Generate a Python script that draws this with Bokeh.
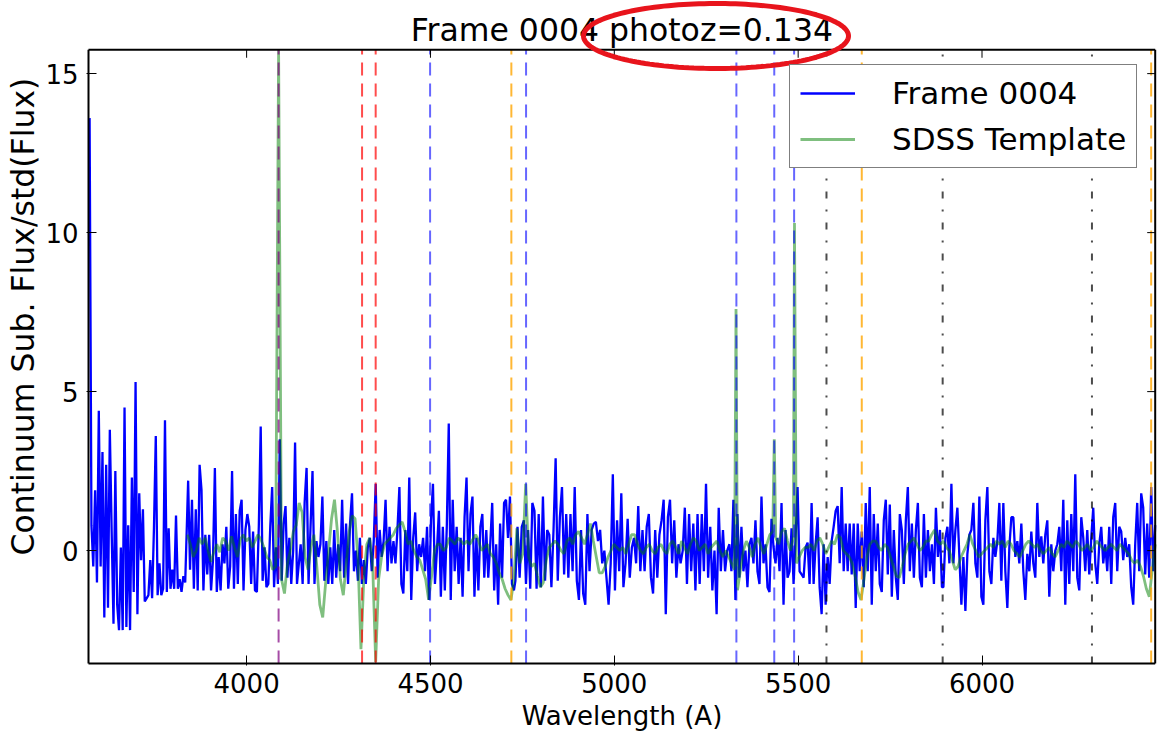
import numpy as np
from bokeh.plotting import figure
from bokeh.models import (Range1d, FixedTicker, Legend, LegendItem, PolyAnnotation, Label, Title)
from bokeh.embed import file_html
from bokeh.resources import INLINE

FONT = "DejaVu Sans"
title_text = "Frame 0004 photoz=0.134"
x_label = "Wavelength (A)"
y_label = "Continuum Sub. Flux/std(Flux)"
x_ticks = [4000, 4500, 5000, 5500, 6000]
y_ticks = [0, 5, 10, 15]
series_names = ["Frame 0004", "SDSS Template"]

# axes box (data limits of the drawn box)
x_lo, x_hi = 3570, 6471
y_lo, y_hi = -3.55, 15.75

# ---- Frame 0004 (blue) : segments given as (first wavelength, last wavelength) + values
blue_a_span = (3573, 3833)
blue_a = [13.6, 0.8, -0.5, 1.9, -1.0, 4.4, -0.5, 3.1, -2.1, 2.7, -1.8, 3.8, 0.6, -2.3, 2.5,
          -1.7, -2.5, 0.1, -2.5, 4.5, -2.4, 0.8, -2.5, 2.3, -1.3, 5.3, -2.0, 1.8, -0.3, 1.3,
          -1.6, -1.5, -1.4, -0.3, -1.5, 0.7, 3.6, -1.4, -0.4, -1.4, -1.2, 4.1, -1.3, 0.7, -1.2,
          -0.6, -1.2, 1.1, -1.2, -0.9, -1.3, -0.8, -1.0]
blue_b_span = (3841, 4137)
blue_b = [2.2, -0.6, 1.6, -1.2, 1.3, -1.25, 2.7, 1.9, -1.25, 0.5, -0.75, 0.5, -1.25, -0.3, 2.6,
          -1.3, -0.2, -1.25, 0.2, -0.4, 0.75, -1.2, -0.5, 2.5, -1.2, 1.15, -1.05, 1.25, 1.6, -1.25,
          0.65, 1.15, 0.75, -1.05, 0.6, -1.25, -1.3, 0.75, 3.9, -0.95, 0.1, -1.15, -1.05, 0.75, 2.0,
          -1.15, 0.1, -1.05, 3.5, -0.95, 0.85, 1.4, -0.85, 0.4, -1.05, 0.0, 3.4, -1.05]
blue_c_span = (4147, 4727)
blue_c = [0.2, -1.05, 1.5, 2.6, -1.05, 0.75, 2.5, -1.05, 0.3, -0.2, 0.2, 1.7, -0.95, 0.3, -1.05,
          0.1, -1.05, 0.65, -0.85, 0.2, -0.65, 1.6, -0.85, 0.85, -1.05, 0.85, 1.8, -0.65, 0.0, -0.95,
          0.4, -1.05, -0.3, -1.05, 0.1, 0.4, -0.65, 0.3, 2.1, -0.85, 0.65, -0.2, 0.3, 1.6, -0.65,
          0.75, -0.4, 0.3, -0.4, 0.65, 2.0, -1.05, -1.35, 0.65, -0.65, 2.3, -1.55, 0.4, 1.2, -0.65,
          0.2, -0.2, 0.4, -0.65, 0.75, -1.55, 0.95, 2.1, -1.05, 0.0, 1.25, -1.45, 0.75, -1.25, 0.75,
          4.0, -1.55, 1.6, -0.65, 0.75, -1.05, 0.4, -1.45, 1.05, 2.3, -0.65, 1.15, 1.7, -1.45, 0.4,
          -1.25, 0.75, 1.15, -0.85, 0.65, -0.85, 0.2, 1.5, -1.25, 0.2, -1.7, 0.85, -0.85, 1.5, 1.6,
          0.4, 1.7, -1.05, -1.25]
blue_d_span = (4731, 5307)
blue_d = [-0.95, 0.75, -0.85, 0.75, 0.95, -1.05, 0.65, -1.2, 1.5, 1.25, -1.2, 1.15, -1.15, 1.7,
          -0.95, 0.65, 0.5, -1.15, 0.65, 2.9, -0.95, 1.05, 2.0, -0.75, 1.15, -0.85, 1.15, -0.65, 2.0,
          -0.95, -1.55, 0.65, -1.35, -1.7, 1.15, -0.65, 0.65, 0.85, 0.9, 0.3, 0.65, -0.4, 0.0, -0.85,
          -1.7, -0.4, 2.4, -1.25, 0.95, -0.65, 1.8, -1.15, -0.4, 1.0, -0.85, 0.1, 0.4, -0.4, 1.4,
          -0.65, 0.65, -0.65, 0.75, 1.15, -0.85, -1.35, 0.65, -0.85, 0.5, 0.95, 1.6, -2.0, 1.05, 1.6,
          -0.4, 0.95, -0.85, 0.2, -0.4, 0.0, 1.35, -1.05, 1.15, -0.65, 0.85, -1.25, 1.15, -1.05, 1.15,
          -0.65, 2.1, -0.85, 0.75, -1.25, 0.0, -2.0, 1.35, -0.65, 0.65, -0.65, 0.0]
blue_e_span = (5313, 5891)
blue_e = [0.2, -0.65, 1.6, -1.55, 1.15, -0.85, 0.75, -0.65, 0.0, -1.15, 0.2, 0.4, -0.4, 0.95,
          -0.65, -1.05, 1.7, -0.4, 0.2, -1.15, -1.3, 1.0, 0.1, -0.4, 0.4, -0.65, 1.5, -1.7, 0.65,
          -0.85, -0.65, 0.7, -1.05, 0.4, 2.0, -0.65, -0.75, -0.85, 0.1, 0.25, -1.05, 1.5, -1.05, 0.2,
          1.05, -1.15, -2.0, 0.2, -1.7, -0.2, -1.05, 0.3, 0.75, 1.25, 1.4, -0.4, 2.0, -0.65, 0.85,
          -0.65, 0.85, -0.75, 0.85, -1.8, 0.85, -0.65, 0.6, -1.15, 1.5, -0.65, 2.0, -1.7, 1.15, -0.65,
          0.85, -1.05, -1.3, 0.95, 1.6, -0.75, 1.45, -1.45, 0.65, -0.85, -1.55, 1.15, 0.65, -1.05,
          0.95, 2.0, -0.65, 0.85, -0.85, 0.65, 1.5, -0.85, -1.15, 1.15, -0.85, 0.65, -0.65, 0.2,
          -1.05, 1.35, -0.2, 0.65, -1.15]
blue_f_span = (5895, 6471)
blue_f = [-1.15, 0.4, 0.75, -0.4, 2.1, -0.4, 0.65, 1.35, -0.2, -1.7, -0.2, -1.9, -0.1, 0.5, 0.65,
          1.5, -0.4, -0.85, 1.7, -1.45, -1.7, 0.95, 2.0, -0.65, -1.05, 0.4, -0.2, 0.3, 1.5, -0.95,
          1.5, -0.65, -1.8, 0.1, 1.05, 1.05, -0.2, 0.3, -0.4, 0.85, -0.65, -1.55, -0.1, -0.65, 0.6,
          -0.4, -0.85, 1.5, -0.2, 0.45, -0.4, 0.5, 0.95, -1.45, 0.2, -0.65, 0.0, 0.2, 0.75, -0.65,
          1.6, -1.7, 0.95, -1.05, 1.15, -0.65, 2.4, -0.85, -1.25, 1.05, 0.4, -0.65, 0.65, -0.75, 0.4,
          1.35, -0.4, -1.05, 0.2, 0.75, -0.4, 0.2, -0.65, 0.75, -1.05, 1.05, 1.5, -0.65, 0.75, 0.6,
          -0.3, 0.4, -0.2, 0.2, -1.15, -1.7, 0.2, 1.5, -0.65, 1.8, 1.35, -0.75, 0.85, -0.85, 2.0,
          -0.65, 0.8]

# ---- SDSS Template (green): segments on an 8 A grid, given by first wavelength + values
green_step = 8
green_a_start = 3839
green_a = [0.5, 0.2, -0.2, 0.0, 0.4, 0.2, 0.4, 0.0, -0.35, -0.05, 0.2, -0.05, 0.4, 0.3, 0.0, 0.45,
           0.1, -0.2, 0.35, 0.5, 0.3, 0.4, 0.1, 0.3, 0.5, 0.35, 0.1, -0.2, -0.3, -0.6, -0.5, 15.75,
           -0.9, -1.35, -0.4, 0.0, 0.6, 0.8, 1.5]
green_b_start = 4151
green_b = [1.2, -0.2, -0.6, 0.1, 0.5, -0.5, -1.7, -2.1, -1.0, 0.0, 1.0, 1.6, 0.6, -0.9, -1.4, -0.4,
           0.6, 1.1, 1.0, -0.3, -3.1, -0.8, 0.2, 0.4, -0.5, -3.5, -0.9, -0.2, 0.2, 0.3, 0.4, 0.5, 0.7,
           0.8, 0.9, 0.6, 0.2, 0.3, 0.0, -0.2, -0.3, -0.6, -0.9, -1.55, -0.8, 0.0, 0.2, 0.2, 0.0, 0.1,
           0.4, 0.3, 0.2, 0.4, 0.3, 0.2, 0.3, 0.2, 0.35, 0.5, 0.3, 0.0, 0.1, 0.2, -0.1, -0.2, -0.4,
           -0.7, -0.9, -1.2, -1.4, -1.55, -0.9]
green_c_start = 4735
green_c = [0.7, -0.4, -0.1, 2.1, -0.2, -0.5, -0.4, -0.8, -1.15, -1.0, -0.3, 0.1, 0.2, 0.3, 0.2, 0.0,
           -0.1, 0.3, 0.4, 0.2, 0.5, 0.6, 0.4, 0.2, 0.5, 0.85, 0.3, -0.2, -0.7, -0.7, -0.5, -0.2, 0.0,
           0.2, 0.1, 0.0, 0.1, -0.1, 0.2, 0.5, 0.5, 0.2, 0.0, -0.1, 0.1, 0.2, 0.0, -0.1, 0.1, 0.2, 0.0,
           -0.1, 0.2, 0.3, 0.1, -0.1, 0.3, 0.1, -0.1, 0.2, 0.4, 0.3, 0.0, 0.1, 0.2, -0.1, 0.1, 0.2,
           0.3, 0.0, -0.2, 0.0, -0.2, -0.4]
green_d_start = 5327
green_d = [-0.6, -1.25, -0.6, 0.0, 0.3, 0.1, -0.2, 0.2, 0.4, 0.1, -0.1, 0.2, 0.5, 0.6, 0.4, 0.2,
           0.6, 0.7, 0.3, 0.0, 0.4, -0.4, -0.2, 0.0, 0.1, 0.1, 0.2, 0.0, 0.3, 0.4, 0.2, -0.1, 0.1,
           0.3, 0.2, 0.5, 0.4, 0.0, -0.1, -0.2, -0.4, -0.8, -1.3, -1.55, -0.9, -0.2, 0.2, 0.3, 0.3,
           0.1, 0.0, 0.2, 0.1, -0.2, -0.5, -0.8, -0.85, -0.5, -0.1, 0.2, 0.3, 0.4, 0.2, 0.0, 0.1, 0.3,
           0.3, 0.5, 0.65, 0.3, 0.2]
green_e_start = 5895
green_e = [0.3, 0.1, 0.0, -0.3, -0.6, -0.5, -0.2, 0.0, 0.2, 0.5, 0.2, 0.0, -0.2, -0.1, 0.0, 0.1,
           0.2, 0.1, 0.3, 0.2, 0.3, 0.1, 0.3, 0.2, 0.0, -0.1, -0.2, 0.0, 0.2, 0.3, 0.2, 0.1, 0.2, 0.0,
           -0.1, 0.0, 0.1, -0.1, -0.2, 0.0, 0.2, 0.1, 0.3, 0.2, 0.1, 0.3, 0.2, 0.0, 0.1, 0.2, 0.0, 0.1,
           0.3, 0.2, 0.1, 0.0, 0.1, 0.2, 0.1, 0.0, 0.2, 0.1, 0.0, -0.1, -0.3, -0.4, -0.3, -0.5, -0.8,
           -1.2, -1.45, -0.6, 0.2]
# narrow template emission lines
green_line_wave = [5331, 5435, 5490]
green_line_peak = [7.6, 3.5, 10.3]

# ---- marker lines (wavelength in A)
purple_lines = [4087]
red_lines = [4314, 4351]
blue_lines = [4499, 4760, 5332, 5435, 5489]
orange_lines = [4720, 5673, 6460]
sky_lines = [5577, 5893, 6299]

# ---- assemble series
bw, bf = [], []
for span, vals in [(blue_a_span, blue_a), (blue_b_span, blue_b), (blue_c_span, blue_c),
                   (blue_d_span, blue_d), (blue_e_span, blue_e), (blue_f_span, blue_f)]:
    bw.extend(np.linspace(span[0], span[1], len(vals)))
    bf.extend(vals)

gw, gf = [], []
for start, vals in [(green_a_start, green_a), (green_b_start, green_b), (green_c_start, green_c),
                    (green_d_start, green_d), (green_e_start, green_e)]:
    gw.extend(start + green_step * np.arange(len(vals)))
    gf.extend(vals)
gw = np.concatenate([np.array(gw, float), np.array(green_line_wave, float)])
gf = np.concatenate([np.array(gf, float), np.array(green_line_peak, float)])
order = np.argsort(gw, kind="stable")
gw, gf = gw[order], gf[order]
keep = gw <= x_hi
gw, gf = gw[keep], gf[keep]

# ---- page geometry (pixels)
W, H = 1157, 733
left_px, bottom_px = 86, 68
box_left_px, box_top_px, box_bottom_px = 88, 49, 663
px_per_x = 0.3677
px_per_y = 31.8
frame_h = H - bottom_px
x_start = x_lo - (box_left_px - left_px) / px_per_x
x_end = x_start + (W - left_px) / px_per_x
y_start = y_lo - (frame_h - box_bottom_px) / px_per_y
y_end = y_start + frame_h / px_per_y

p = figure(width=W, height=H, output_backend="svg", toolbar_location=None,
           x_range=Range1d(x_start, x_end), y_range=Range1d(y_start, y_end),
           min_border_left=left_px, min_border_right=0, min_border_top=0,
           min_border_bottom=bottom_px)
p.title = None
p.background_fill_color = "white"
p.border_fill_color = "white"
p.outline_line_color = None
p.grid.visible = False

for ax in (p.xaxis[0], p.yaxis[0]):
    ax.axis_line_color = None
    ax.major_tick_in = 10
    ax.major_tick_out = 0
    ax.minor_tick_in = 0
    ax.minor_tick_out = 0
    ax.major_tick_line_color = "black"
    ax.major_tick_line_width = 1
    ax.major_label_text_font = FONT
    ax.major_label_text_font_size = "26px"
    ax.major_label_text_color = "black"
    ax.axis_label_text_font = FONT
    ax.axis_label_text_font_style = "normal"
    ax.axis_label_text_color = "black"
p.xaxis.ticker = FixedTicker(ticks=x_ticks)
p.yaxis.ticker = FixedTicker(ticks=y_ticks)
p.xaxis.axis_label = x_label
p.xaxis.axis_label_text_font_size = "26px"
p.xaxis.major_label_standoff = 7
p.xaxis.axis_label_standoff = 5
p.yaxis.major_label_standoff = 8

# y axis title: starts ~110 px above the bottom of the frame and runs upward
ytitle = Title(text=y_label, align="left", offset=110, text_font=FONT,
               text_font_size="31.5px", text_font_style="normal", text_color="black", standoff=4)
p.add_layout(ytitle, "left")

# data
r_blue = p.line(bw, bf, line_color="blue", line_width=2.3)
r_green = p.line(gw, gf, line_color="green", line_alpha=0.5, line_width=2.8)

def add_lines(waves, color, alpha, dash):
    p.segment(x0=waves, x1=waves, y0=[y_lo] * len(waves), y1=[y_hi] * len(waves),
              line_color=color, line_alpha=alpha, line_width=2, line_dash=dash)

add_lines(purple_lines, "purple", 0.7, "13 8")
add_lines(red_lines, "red", 0.7, "13 8")
add_lines(blue_lines, "blue", 0.6, "13 8")
add_lines(orange_lines, "orange", 0.8, "13 8")
add_lines(sky_lines, "black", 0.7, "7 11 2 11")

# axes box and inward ticks on the top / right sides
p.segment(x0=[x_lo, x_lo, x_lo, x_hi], x1=[x_hi, x_hi, x_lo, x_hi],
          y0=[y_lo, y_hi, y_lo, y_lo], y1=[y_lo, y_hi, y_hi, y_hi],
          line_color="black", line_width=2)
tick_len_px = 8
p.segment(x0=x_ticks, x1=x_ticks, y0=[y_hi] * len(x_ticks),
          y1=[y_hi - tick_len_px / px_per_y] * len(x_ticks), line_color="black", line_width=1)
p.segment(x0=[x_hi] * len(y_ticks), x1=[x_hi - tick_len_px / px_per_x] * len(y_ticks),
          y0=y_ticks, y1=y_ticks, line_color="black", line_width=1)

# plot title above the box
title_x = x_lo + (x_hi - x_lo) / 2
title_y = y_hi + (box_top_px - 29) / px_per_y
p.add_layout(Label(x=title_x, y=title_y, text=title_text, text_align="center",
                   text_baseline="alphabetic", text_font=FONT, text_font_size="31.5px",
                   text_color="black"))

legend = Legend(items=[LegendItem(label=series_names[0], renderers=[r_blue]),
                       LegendItem(label=series_names[1], renderers=[r_green])],
                location=(789 - left_px, frame_h - 168))
legend.label_text_font = FONT
legend.label_text_font_size = "31px"
legend.label_text_color = "black"
legend.glyph_width = 55
legend.glyph_height = 34
legend.label_height = 34
legend.label_standoff = 37
legend.padding = 10
legend.spacing = 10
legend.margin = 0
legend.border_line_color = "black"
legend.border_line_width = 1.5
legend.background_fill_alpha = 1
p.add_layout(legend)

# red hand-drawn ellipse annotation around the photoz text
ell_cx = x_start + (715.5 - left_px) / px_per_x
ell_cy = y_start + (frame_h - 35.5) / px_per_y
ell_rx, ell_ry = 132.5 / px_per_x, 32.5 / px_per_y
t = np.linspace(0, 2 * np.pi, 160)
p.add_layout(PolyAnnotation(xs=list(ell_cx + ell_rx * np.cos(t)), ys=list(ell_cy + ell_ry * np.sin(t)),
                            fill_color=None, line_color="#e8141c", line_alpha=1.0, line_width=5))

open("out.html", "w").write(file_html(p, INLINE))
